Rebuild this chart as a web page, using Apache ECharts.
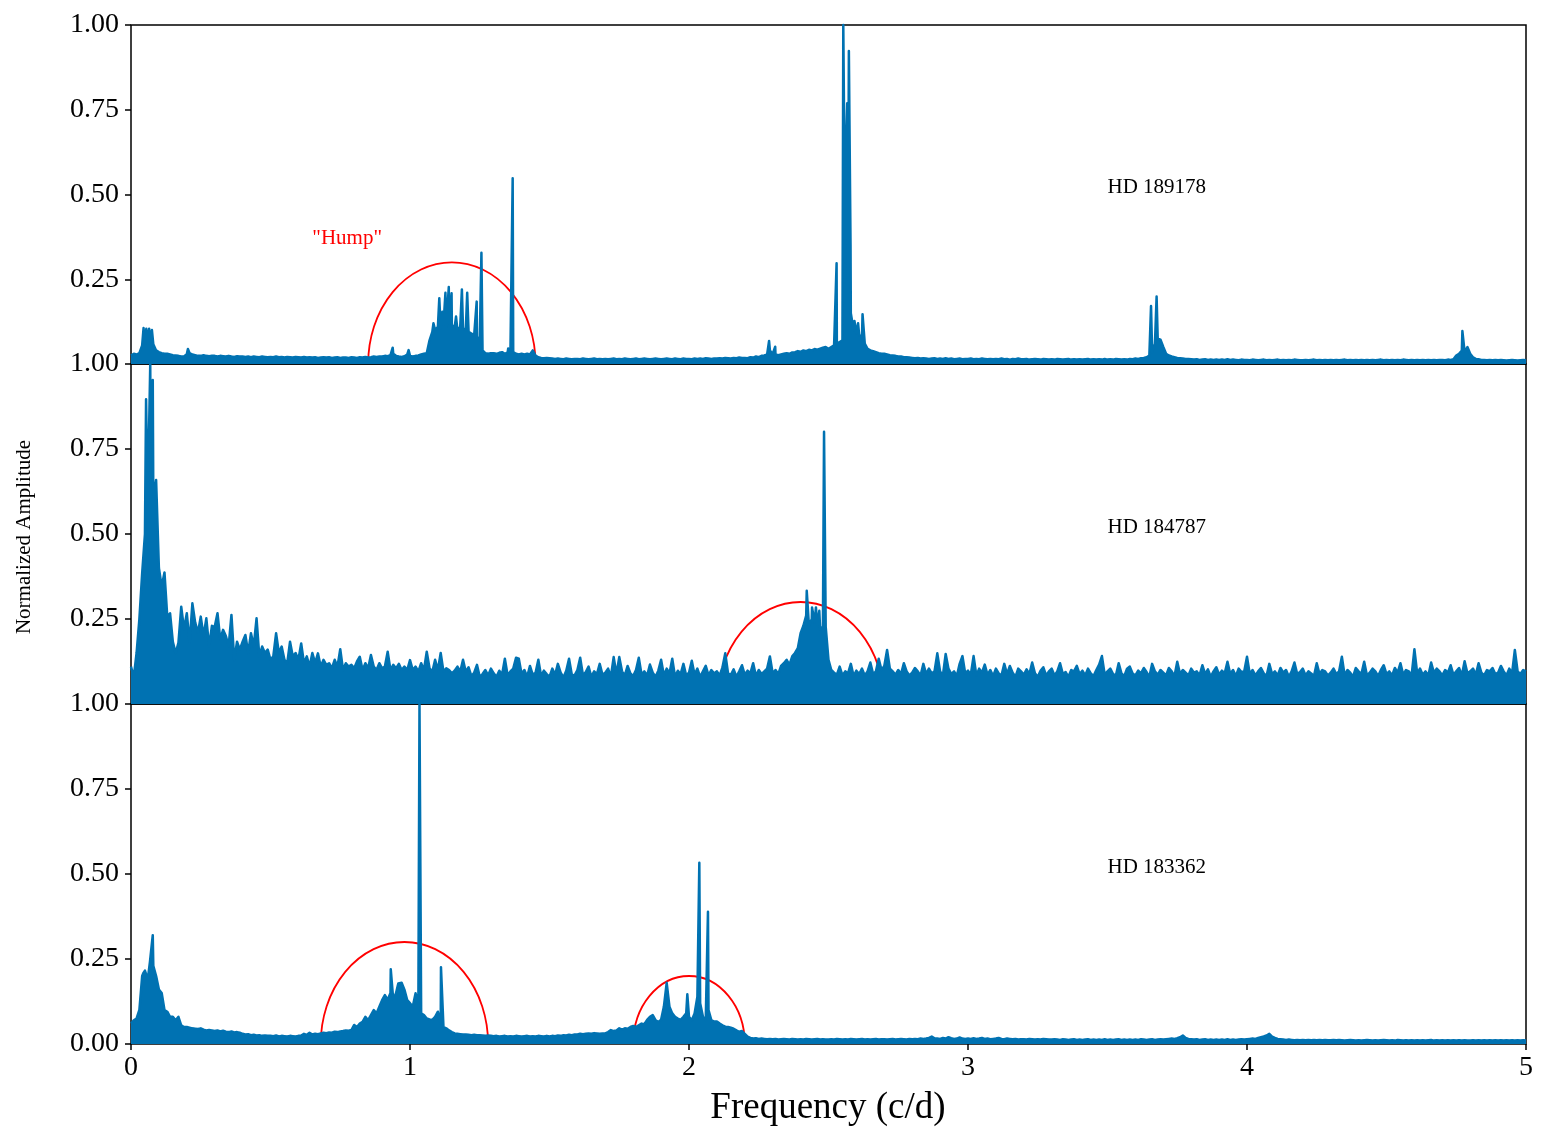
<!DOCTYPE html>
<html>
<head>
<meta charset="utf-8">
<title>Normalized Amplitude spectra</title>
<script src="https://cdn.jsdelivr.net/npm/echarts@6.0.0/dist/echarts.min.js"></script>
<style>
  html, body { margin: 0; padding: 0; background: #fff; }
  #the-chart { width: 1550px; height: 1143px; }
</style>
</head>
<body>
<div id="the-chart"></div>
<script>
/**
 * 三颗星的归一化振幅谱（0-5 c/d）
 * 底噪数组：每 0.01 c/d 一个点，单位千分之一；尖峰单独列出 [频率, 振幅(千分之一)]
 */
const starNames = ["HD 189178", "HD 184787", "HD 183362"];
const xTickValues = [0, 1, 2, 3, 4, 5];
const yTickValues = [0, 0.25, 0.5, 0.75, 1];

// HD 189178
const baseTop = [
  25,30,28,32,55,62,60,65,58,40, 35,32,30,30,28,26,25,24,22,22,
  29,32,28,26,24,24,26,24,23,24, 24,22,24,23,22,24,22,21,23,22,
  22,21,22,20,22,21,20,22,21,20, 21,20,22,20,21,19,21,20,19,21,
  20,19,21,19,20,19,20,18,19,20, 19,20,18,19,20,18,19,19,18,20,
  19,18,20,19,21,19,20,22,21,22, 22,24,23,26,30,24,22,21,23,28,
  24,22,24,25,28,30,32,70,95,100, 110,105,115,110,120,115,108,100,110,105,
  100,95,90,85,80,70,40,32,30,32, 32,30,33,35,30,34,40,35,30,28,
  30,28,30,28,40,25,20,18,17,18, 17,16,15,16,15,14,16,15,14,15,
  15,14,16,15,14,15,16,14,15,14, 15,14,15,16,14,15,14,16,15,14,
  15,16,14,15,16,15,14,15,16,15, 14,15,16,15,14,16,15,14,16,15,
  15,14,16,15,16,15,17,16,15,16, 16,17,16,18,17,16,18,17,19,18,
  18,17,20,19,22,20,24,25,28,40, 30,28,26,28,30,32,30,34,35,38,
  36,40,38,42,40,44,42,45,48,50, 45,50,55,60,65,70,300,250,150,100,
  90,85,80,60,45,40,38,35,32,30, 30,28,26,25,24,22,22,20,20,19,
  18,17,18,16,17,16,15,16,17,15, 16,15,17,15,16,14,15,16,14,15,
  15,16,14,15,14,16,15,14,15,14, 15,14,16,14,15,13,15,14,16,14,
  14,15,13,14,15,14,13,15,14,13, 14,13,15,14,13,14,15,13,14,13,
  14,13,14,15,13,14,13,14,13,15, 13,14,13,15,14,13,14,13,15,14,
  16,15,17,18,20,25,35,60,75,72, 50,30,25,22,20,18,17,16,15,15,
  14,13,14,12,13,14,12,13,12,13, 12,13,12,14,12,13,12,11,13,12,
  12,11,13,12,11,12,13,11,12,11, 12,13,11,12,11,12,11,13,12,11,
  11,12,11,12,13,11,12,11,12,11, 12,11,12,11,12,13,11,12,11,12,
  11,12,11,12,11,12,11,12,13,11, 12,11,12,11,12,11,13,12,11,12,
  11,12,11,12,11,12,11,12,11,12, 12,11,13,12,14,25,30,40,36,50,
  30,20,15,14,12,12,11,12,11,12, 11,12,11,10,11,12,11,10,11,12,
  11
];
const peaksTop = [
  [0.045,106],[0.055,104],[0.065,104],[0.075,100],[0.204,44],[0.938,48],[0.995,41],
  [1.084,120],[1.105,194],[1.116,154],[1.127,210],[1.139,227],[1.149,209],[1.165,140],
  [1.186,220],[1.205,210],[1.225,86],[1.239,184],[1.256,328],[1.352,46],[1.368,548],[1.445,40],
  [2.287,68],[2.309,51],[2.529,297],[2.553,1000],[2.561,577],[2.567,769],[2.573,923],[2.579,350],
  [2.593,127],[2.606,120],[2.622,147],[2.634,56],[3.656,171],[3.676,199],[4.772,97]
];

// HD 184787
const baseMid = [
  110,80,150,250,384,500,590,800,600,659, 400,345,387,257,267,183,150,180,286,220,
  267,180,296,240,210,257,200,252,169,230, 227,267,190,218,200,170,262,129,183,160,
  183,203,150,208,170,252,140,169,150,160, 130,140,208,150,169,130,120,183,140,150,
  130,178,120,140,110,150,120,149,110,130, 115,120,105,130,110,161,100,120,110,115,
  105,125,139,100,120,105,144,110,100,120, 105,110,154,100,115,105,118,100,110,100,
  129,100,110,95,120,100,154,105,95,130, 100,150,95,105,100,90,98,110,95,130,
  95,108,82,92,115,80,88,100,84,104, 90,80,98,86,133,84,96,104,136,133,
  88,100,80,112,86,92,130,82,98,88, 80,104,86,118,92,78,98,133,86,84,
  100,136,84,94,110,80,96,88,118,86, 92,104,80,138,88,138,96,84,112,90,
  82,100,136,86,96,84,116,92,80,98, 130,84,104,90,133,80,98,88,118,84,
  92,127,86,104,80,96,112,84,100,90, 96,84,108,149,90,86,102,80,96,114,
  86,98,90,120,82,100,88,96,104,140, 90,100,88,112,120,130,115,140,150,164,
  208,230,260,230,250,240,230,220,227,227, 130,100,92,86,110,84,96,90,118,82,
  98,88,104,84,96,122,88,96,133,100, 112,159,104,96,86,100,88,120,96,84,
  92,106,96,84,118,88,104,90,96,149, 96,84,147,104,88,96,82,118,141,90,
  98,86,141,84,104,92,116,86,100,82, 104,90,84,118,88,112,92,80,104,96,
  86,102,88,122,90,80,98,108,84,96, 104,84,96,120,88,94,80,100,96,112,
  88,98,84,104,90,82,100,116,141,86, 96,104,88,84,120,90,82,104,110,90,
  84,98,90,106,94,80,118,96,86,100, 92,84,106,96,82,124,88,100,92,84,
  104,92,96,84,114,88,102,80,96,108, 86,98,90,124,88,100,82,104,94,96,
  139,88,100,84,96,106,90,82,118,88, 96,84,106,92,100,80,96,122,88,94,
  104,84,96,90,82,120,88,100,96,84, 92,104,88,96,139,84,100,92,80,106,
  96,88,124,84,92,104,96,82,100,114, 88,96,84,106,92,120,86,100,96,84,
  161,90,104,86,96,84,122,92,104,96, 84,100,92,114,86,96,106,84,126,90,
  96,104,86,120,92,84,100,96,106,88, 92,112,96,84,104,90,159,96,88,100,
  96
];
const peaksMid = [
  [0.054,896],[0.069,1000],[0.078,953],
  [2.422,333],[2.441,284],[2.455,284],[2.467,274],[2.484,801]
];

// HD 183362
const baseBot = [
  60,70,75,100,200,216,190,242,230,200, 160,150,100,95,80,80,70,80,55,50,
  50,48,46,45,44,46,42,40,41,40, 38,40,37,39,36,35,37,34,35,33,
  30,28,29,26,27,25,26,24,25,24, 24,23,25,22,24,23,22,24,23,22,
  24,25,30,27,33,28,30,29,31,33, 32,34,33,36,35,37,38,40,39,41,
  56,50,60,65,80,70,85,100,90,110, 129,144,130,150,130,150,178,180,160,129,
  120,110,149,120,90,85,75,72,71,80, 95,60,50,46,40,35,31,30,29,28,
  28,27,26,27,26,26,25,24,25,24, 23,24,22,23,24,22,23,22,24,23,
  22,23,24,22,23,22,24,23,22,24, 22,24,23,25,24,26,25,27,26,28,
  28,30,29,30,31,30,32,31,30,31, 31,35,41,38,40,46,42,46,45,50,
  53,50,55,60,58,71,80,85,70,65, 71,110,180,110,90,80,75,71,80,90,
  80,70,90,139,120,80,71,100,70,66, 66,60,55,51,50,48,45,40,36,38,
  30,22,18,16,17,15,16,15,14,15, 14,15,13,14,15,14,13,15,14,13,
  14,13,15,14,13,14,15,13,14,13, 13,14,13,15,14,13,14,13,15,14,
  13,14,15,13,14,13,14,15,13,14, 14,13,14,15,13,14,15,14,13,15,
  14,15,14,16,15,16,18,22,17,16, 15,18,16,20,17,15,16,19,16,15,
  16,15,17,15,16,18,15,16,14,15, 16,18,15,14,16,15,14,15,13,14,
  14,13,15,14,13,14,13,15,14,13, 13,14,13,12,14,13,12,13,14,12,
  13,12,13,14,12,13,12,13,12,14, 12,13,12,13,14,12,13,12,13,12,
  13,12,14,13,12,13,14,12,13,14, 13,14,15,16,15,17,20,25,18,15,
  14,13,14,12,13,14,12,13,12,13, 12,13,12,14,12,13,12,13,14,13,
  14,15,16,15,18,20,22,25,30,22, 18,15,14,13,12,13,12,11,12,11,
  12,11,12,11,12,11,12,11,12,11, 11,12,11,12,11,10,11,12,11,10,
  11,10,11,12,11,10,11,10,11,12, 11,10,11,10,12,11,10,11,10,11,
  10,11,10,11,10,11,12,10,11,10, 11,10,11,10,11,10,11,10,11,10,
  10,11,10,11,10,11,10,11,10,11, 10,11,10,11,10,11,10,11,10,11,
  10
];
const peaksBot = [
  [0.044,208],[0.068,242],[0.078,320],[0.916,144],[0.931,220],[0.958,178],
  [1.034,1000],[1.111,226],[1.994,146],[2.037,533],[2.068,389]
];

// "Hump" 半圆：[中心频率, 半宽, 高]
const humpsTop = [[1.15, 0.3, 0.3]];
const humpsMid = [[2.4, 0.3, 0.3]];
const humpsBot = [[0.98, 0.3, 0.3], [2.0, 0.2, 0.2]];
const humpLabel = ['"Hump"', 0.65, 0.35];
const starLabelPos = [3.5, 0.5];

const BLUE = "#0072b2";
const FONT = '"Liberation Serif", "Times New Roman", serif';
const gridTops = [25, 364, 704];
const gridHeights = [339, 340, 340];

let myChart = echarts.init(document.getElementById("the-chart"), null, {
  renderer: "canvas",
});

/**
 * 底噪 + 尖峰合并成按频率排序的点
 */
function buildSpectrum(base, peaks) {
  let pts = base.map((v, i) => [i / 100, v / 1000]);
  peaks.forEach((p) => pts.push([p[0], p[1] / 1000]));
  pts.sort((a, b) => a[0] - b[0]);
  return pts;
}

/**
 * 画上半个椭圆弧（数据坐标下的半圆）
 */
function renderArc(params, api) {
  let c = api.coord([api.value(0), 0]);
  let s = api.size([api.value(1), api.value(2)]);
  let d = `M ${c[0] - s[0]} ${c[1]} A ${s[0]} ${s[1]} 0 0 1 ${c[0] + s[0]} ${c[1]}`;
  return {
    type: "path",
    shape: { pathData: d },
    style: { fill: "none", stroke: "#ff0000", lineWidth: 1.8 },
  };
}

const spectra = [
  buildSpectrum(baseTop, peaksTop),
  buildSpectrum(baseMid, peaksMid),
  buildSpectrum(baseBot, peaksBot),
];
const humps = [humpsTop, humpsMid, humpsBot];

let option = {
  animation: false,
  backgroundColor: "#fff",
  grid: gridTops.map((t, k) => ({
    left: 131,
    width: 1395,
    top: t,
    height: gridHeights[k],
    show: true,
    borderColor: "#000",
    borderWidth: 1.5,
    backgroundColor: "transparent",
    containLabel: false,
    outerBoundsMode: "none",
  })),
  xAxis: [0, 1, 2].map((k) => ({
    gridIndex: k,
    type: "value",
    min: xTickValues[0],
    max: xTickValues[xTickValues.length - 1],
    interval: 1,
    axisLine: { show: false },
    splitLine: { show: false },
    axisTick: {
      show: k === 2,
      length: 6,
      lineStyle: { color: "#000", width: 1.5 },
    },
    axisLabel: {
      show: k === 2,
      margin: 10,
      color: "#000",
      fontFamily: FONT,
      fontSize: 28,
    },
  })),
  yAxis: [0, 1, 2].map((k) => ({
    gridIndex: k,
    type: "value",
    min: yTickValues[0],
    max: yTickValues[yTickValues.length - 1],
    interval: 0.25,
    axisLine: { show: false },
    splitLine: { show: false },
    axisTick: {
      show: true,
      length: 6,
      lineStyle: { color: "#000", width: 1.5 },
    },
    axisLabel: {
      margin: 12,
      color: "#000",
      fontFamily: FONT,
      fontSize: 28,
      showMinLabel: k === 2, // 上两幅的 0.00 被下一幅的 1.00 盖住
      formatter: (v) => v.toFixed(2),
    },
  })),
  series: [],
};

[0, 1, 2].forEach((k) => {
  option.series.push({
    type: "custom",
    xAxisIndex: k,
    yAxisIndex: k,
    data: humps[k],
    renderItem: renderArc,
    silent: true,
    z: 2,
  });
  option.series.push({
    type: "line",
    name: starNames[k],
    xAxisIndex: k,
    yAxisIndex: k,
    data: spectra[k],
    showSymbol: false,
    symbol: "none",
    clip: false,
    silent: true,
    lineStyle: { color: BLUE, width: 2.5, join: "round" },
    itemStyle: { color: BLUE },
    areaStyle: { color: BLUE, opacity: 1 },
    z: 3,
  });
});

option && myChart.setOption(option);

/**
 * 文字标注：星名、"Hump"、坐标轴标题
 */
function placeTexts() {
  let g = [];
  starNames.forEach((name, k) => {
    let p = myChart.convertToPixel({ gridIndex: k }, starLabelPos);
    g.push({
      type: "text",
      x: p[0],
      y: p[1] - 7,
      style: { text: name, font: "21px " + FONT, fill: "#000", align: "left", verticalAlign: "middle" },
      z: 10,
    });
  });
  let h = myChart.convertToPixel({ gridIndex: 0 }, [humpLabel[1], humpLabel[2]]);
  g.push({
    type: "text",
    x: h[0],
    y: h[1] - 7,
    style: { text: humpLabel[0], font: "21px " + FONT, fill: "#ff0000", align: "left", verticalAlign: "middle" },
    z: 10,
  });
  g.push({
    type: "text",
    x: 828,
    y: 1108,
    style: { text: "Frequency (c/d)", font: "37px " + FONT, fill: "#000", align: "center", verticalAlign: "middle" },
  });
  g.push({
    type: "text",
    x: 24,
    y: 537,
    rotation: Math.PI / 2,
    style: { text: "Normalized Amplitude", font: "21px " + FONT, fill: "#000", align: "center", verticalAlign: "middle" },
  });
  myChart.setOption({ graphic: g });
}

placeTexts();
</script>
</body>
</html>
